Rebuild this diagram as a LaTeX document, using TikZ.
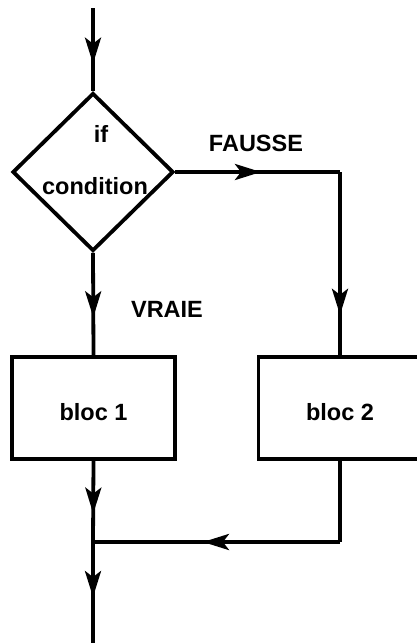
\documentclass[tikz,border=0pt]{standalone}
\usepackage{fontspec}
\setmainfont{Liberation Sans}
\usetikzlibrary{arrows.meta,shapes.geometric,decorations.markings}
\tikzset{
  flow/.style={line width=3.8pt},
  tip/.style={postaction={decorate},decoration={markings,
      mark=at position #1 with {\arrow{Stealth[length=26pt,width=16pt,inset=6pt]}}}},
  decision/.style={draw, flow, diamond, minimum width=161pt, minimum height=158pt, inner sep=0pt},
  bloc/.style={draw, flow, rectangle, minimum width=163pt, minimum height=102pt, inner sep=0pt,
      text height=24pt, text depth=0pt},
  txt/.style={font=\bigbold, inner sep=0pt}
}
\newcommand{\bigbold}{\fontsize{23.5}{28}\selectfont\bfseries}
\begin{document}
\begin{tikzpicture}[x=1pt, y=-1pt]
			%%%%% START %%%%%
			\useasboundingbox (0, 0) rectangle (417, 643);
			
			\coordinate (start) at (93, 8);
			\node[decision] (cond) at (93, 172) {};
			\node[txt] (iftxt) at (101, 134) {if};
			\node[txt] (condtxt) at (95, 186) {condition};
			
			\coordinate (corner) at (340, 172);
			\node[bloc, txt] (bloc1) at (93.5, 408) {bloc 1};
			\node[bloc, txt] (bloc2) at (340, 408) {bloc 2};
			
			\coordinate (turn) at (340, 542);
			\coordinate (join) at (93, 542);
			\coordinate (end) at (93, 643);
			
			\node[txt] (fausse) at (256, 143) {FAUSSE};
			\node[txt] (vraie) at (167, 309) {VRAIE};
			
			\draw[flow, tip=0.67] (start) -- (cond.north);
			\draw[flow, tip=0.52] (cond.east) -- (corner);
			\draw[flow, tip=0.78] (corner) -- (bloc2.north);
			\draw[flow, tip=0.63] (cond.south) -- (bloc1.north);
			
			\draw[flow, tip=0.65] (bloc1.south) -- (join);
			\draw[flow] (bloc2.south) -- (turn);
			\draw[flow, tip=0.555] (turn) -- (join);
			\draw[flow, tip=0.545] (join) -- (end);
			%%%%% END %%%%%
\end{tikzpicture}
\end{document}
